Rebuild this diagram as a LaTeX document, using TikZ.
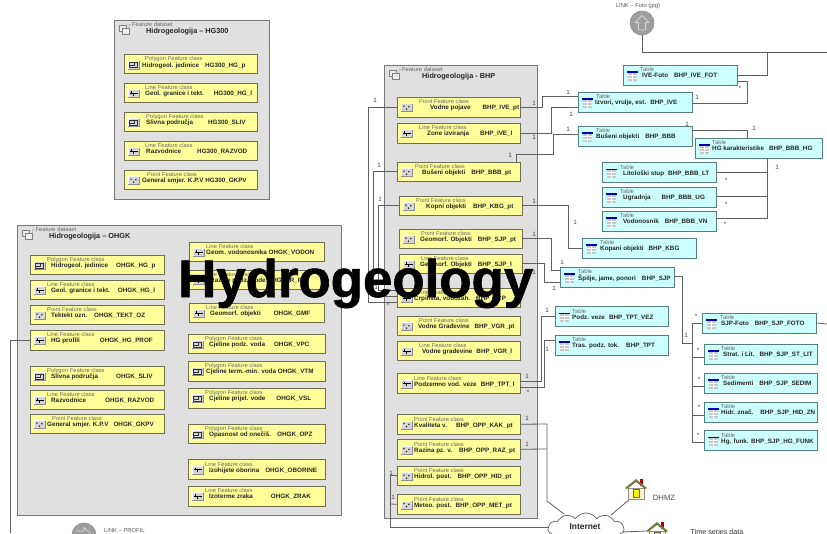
\documentclass[tikz,border=0pt]{standalone}
\usepackage{fontspec}
\setmainfont{Liberation Sans}
\newfontfamily\titlef{Liberation Sans Bold}[FakeBold=1.2]
\usetikzlibrary{shapes.symbols}
\definecolor{dsfill}{HTML}{E0E0E0}
\definecolor{dsline}{HTML}{777777}
\definecolor{fcfill}{HTML}{FFFF99}
\definecolor{fcline}{HTML}{6E6E50}
\definecolor{tbfill}{HTML}{CCFFFF}
\definecolor{tbline}{HTML}{557F7F}
\definecolor{cn}{HTML}{606060}
\definecolor{kindc}{HTML}{666666}
\definecolor{roofc}{HTML}{7A7A40}
\definecolor{wallc}{HTML}{FBF3D5}
\newcounter{mc}
\newcommand\g[1]{\hspace*{#1pt}}
\tikzset{
 x=1pt,y=-1pt,
 dset/.style={draw=dsline,fill=dsfill,line width=1pt,inner sep=0,rectangle},
 fcbox/.style={draw=fcline,fill=fcfill,line width=0.9pt,inner sep=0,rectangle},
 tbbox/.style={draw=tbline,fill=tbfill,line width=0.9pt,inner sep=0,rectangle},
 kind/.style={anchor=west,inner sep=0,font=\fontsize{5.8}{6}\selectfont,text=kindc},
 nametext/.style={anchor=west,inner sep=0,font=\bfseries\fontsize{6.3}{7}\selectfont,text=black!85},
 dstitle/.style={anchor=west,inner sep=0,font=\bfseries\fontsize{7.3}{8}\selectfont,text=black!85},
 mult/.style={inner sep=0,font=\fontsize{6.3}{7}\selectfont,text=black!75},
 conn/.style={draw=cn,line width=0.8pt},
 small/.style={inner sep=0,font=\fontsize{5.8}{6}\selectfont,text=black!65},
}
\def\parsebox#1,#2,#3,#4\relax{\def\xa{#1}\def\ya{#2}\def\xb{#3}\def\yb{#4}}
% icons, drawn directly at (x,y)
\newcommand\icback[2]{\fill[black!17] (#1-5.2,#2-4) rectangle (#1+5.2,#2+4);\draw[white,line width=0.4pt] (#1-5.2,#2+4)--(#1-5.2,#2-4)--(#1+5.2,#2-4);\draw[black!45,line width=0.4pt] (#1-5.2,#2+4)--(#1+5.2,#2+4)--(#1+5.2,#2-4);}
\newcommand\icpt[2]{\icback{#1}{#2}\fill[black] (#1-2.6,#2-1.4) circle (.75) (#1+2.4,#2-.7) circle (.75) (#1,#2+1.7) circle (.75);}
\newcommand\icln[2]{\icback{#1}{#2}\draw[black,line width=.5pt] (#1-4,#2-.4)--(#1+4,#2-.4) (#1,#2-.4)--(#1,#2+2.2) (#1-2,#2-.4)--(#1-2,#2-2.2);}
\newcommand\icpg[2]{\icback{#1}{#2}\draw[black!80,line width=.45pt] (#1-3.8,#2-2.7) rectangle (#1+3.8,#2+2.7) (#1+.5,#2-2.7)--(#1+.5,#2+.5)--(#1-3.8,#2+.5);}
\newcommand\ictb[2]{\fill[black!22] (#1-4.8,#2-3) rectangle (#1+4.8,#2+5);\fill[blue!70!black] (#1-5.3,#2-4.5) rectangle (#1+5.3,#2-3);\draw[white,line width=.5pt] (#1-4.8,#2-.4)--(#1+4.8,#2-.4) (#1-4.8,#2+2.3)--(#1+4.8,#2+2.3) (#1,#2-3)--(#1,#2+5);}
% box: name, x1,y1,x2,y2, style, icon macro, label x, text x, text
\newcommand\cbox[7]{\parsebox#2\relax
 \pgfmathsetmacro\cxx{(\xa+\xb)/2}\pgfmathsetmacro\cyy{(\ya+\yb)/2}
 \pgfmathsetmacro\ww{\xb-\xa}\pgfmathsetmacro\hh{\yb-\ya}
 \pgfmathsetmacro\icx{\xa+9.5}\pgfmathsetmacro\icy{\ya+10.5}
 \pgfmathsetmacro\ky{\ya+4.6}\pgfmathsetmacro\ty{\ya+11}
 \node[#3,minimum width=\ww pt,minimum height=\hh pt] (#1) at (\cxx,\cyy) {};
 \csname ic#4\endcsname{\icx}{\icy}
 \node[kind] (#1-k) at (#5,\ky) {\csname kn#4\endcsname};
 \node[nametext] (#1-t) at (#6,\ty) {#7};}
\def\knpt{Point Feature class}\def\knln{Line Feature class}\def\knpg{Polygon Feature class}\def\kntb{Table}
\newcommand\dataset[4]{\parsebox#2\relax
 \pgfmathsetmacro\cxx{(\xa+\xb)/2}\pgfmathsetmacro\cyy{(\ya+\yb)/2}
 \pgfmathsetmacro\ww{\xb-\xa}\pgfmathsetmacro\hh{\yb-\ya}
 \pgfmathsetmacro\ka{\xa+18}\pgfmathsetmacro\kb{\ya+4.5}\pgfmathsetmacro\tb{\ya+12}
 \node[dset,minimum width=\ww pt,minimum height=\hh pt] (#1) at (\cxx,\cyy) {};
 \node[kind] (#1-k) at (\ka,\kb) {Feature dataset};
 \node[dstitle] (#1-t) at (#4,\tb) {#3};
 \draw[black!50,line width=.35pt,fill=white!40!dsfill] (\xa+5,\ya+5) rectangle (\xa+12,\ya+11);
 \draw[black!50,line width=.35pt,fill=white!40!dsfill] (\xa+8,\ya+8) rectangle (\xa+15,\ya+14);
 \draw[black!50,line width=.35pt] (\xa+15,\ya+8)--(\xa+15,\ya+5)--(\xa+17,\ya+4);}
\newcommand\mul[3]{\stepcounter{mc}\node[mult] (m\arabic{mc}) at (#1,#2) {#3};}
\newcommand\house[3]{%
 \fill[wallc,draw=black!45,line width=.4pt] (#1-8,#2+9) rectangle (#1+8,#2+20);
 \fill[red!65!black] (#1+4,#2) rectangle (#1+7,#2+7);
 \fill[roofc] (#1,#2) -- (#1+11,#2+9) -- (#1+9,#2+10) -- (#1,#2+3) -- (#1-9,#2+10) -- (#1-11,#2+9) -- cycle;
 \fill[yellow,draw=black!60,line width=.5pt] (#1-3,#2+10) rectangle (#1+3,#2+18);}
\begin{document}
\begin{tikzpicture}
\useasboundingbox (0,0) rectangle (827,533);
\clip (0,0) rectangle (827,533);
\fill[white] (0,0) rectangle (827,533);
% datasets
\dataset{hg}{114,20,269,199}{Hidrogeologija – HG300}{146}
\dataset{oh}{17.5,225,341,515}{Hidrogeologija – OHGK}{49}
\dataset{bh}{384,65,537,518}{Hidrogeologija - BHP}{422}
% HG300
\cbox{h1}{124,54.5,257,73.5}{fcbox}{pg}{145}{142}{Hidrogeol. jedinice\g{6}HG300\_HG\_p}
\cbox{h2}{124,83,257,102}{fcbox}{ln}{145}{145}{Geol. granice i tekt.\g{10}HG300\_HG\_l}
\cbox{h3}{124,112,257,131}{fcbox}{pg}{146}{146}{Slivna područja\g{15}HG300\_SLIV}
\cbox{h4}{124,141,257,160}{fcbox}{ln}{145}{146}{Razvodnice\g{16}HG300\_RAZVOD}
\cbox{h5}{124,170,257,189}{fcbox}{pt}{147}{142}{General smjer. K.P.V HG300\_GKPV}
% OHGK left
\cbox{o1}{30,255,164,274}{fcbox}{pg}{47}{51}{Hidrogeol. jedinice\g{8}OHGK\_HG\_p}
\cbox{o2}{30,280,164,299.5}{fcbox}{ln}{47}{51}{Geol. granice i tekt.\g{8}OHGK\_HG\_l}
\cbox{o3}{30,305,164,324.5}{fcbox}{pt}{47}{51}{Tektekt ozn.\g{7}OHGK\_TEKT\_OZ}
\cbox{o4}{30,330,164,350}{fcbox}{ln}{47}{51}{HG profili\g{20}OHGK\_HG\_PROF}
\cbox{o5}{30,366,164,385}{fcbox}{pg}{47}{51}{Slivna područja\g{18}OHGK\_SLIV}
\cbox{o6}{30,390,164,409.5}{fcbox}{ln}{47}{51}{Razvodnice\g{19}OHGK\_RAZVOD}
\cbox{o7}{30,414,164,433.5}{fcbox}{pt}{52}{47}{General smjer. K.P.V\g{5}OHGK\_GKPV}
% OHGK right
\cbox{r1}{189,242,324,261}{fcbox}{ln}{206}{206}{Geom. vodonosnika OHGK\_VODON}
\cbox{r2}{189,270,324,289}{fcbox}{ln}{206}{210}{Razine podz. vode OHGK\_R\_PV}
\cbox{r3}{189,303,324,322.5}{fcbox}{ln}{206}{210}{Geomorf. objekti\g{13}OHGK\_GMF}
\cbox{r4}{188,334,325,353.5}{fcbox}{pg}{205}{209}{Cjeline podz. voda\g{9}OHGK\_VPC}
\cbox{r5}{188,361,325,381}{fcbox}{pg}{205}{206}{Cjeline term.-min. voda OHGK\_VTM}
\cbox{r6}{188,388,325,408}{fcbox}{pg}{205}{209}{Cjeline prijel. vode\g{11}OHGK\_VSL}
\cbox{r7}{188,424,325,443.5}{fcbox}{pg}{205}{209}{Opasnost od onečiš.\g{6}OHGK\_OPZ}
\cbox{r8}{188,459.5,325,479}{fcbox}{ln}{205}{209}{Izohijete oborina\g{6}OHGK\_OBORINE}
\cbox{r9}{188,486,325,506}{fcbox}{ln}{205}{209}{Izoterme zraka\g{18}OHGK\_ZRAK}
% BHP
\cbox{b1}{397,97,520,117}{fcbox}{pt}{419}{430}{Vodne pojave\g{12}BHP\_IVE\_pt}
\cbox{b2}{397,123,520,143}{fcbox}{ln}{419}{427}{Zone izviranja\g{11}BHP\_IVE\_l}
\cbox{b3}{397,162,520,181}{fcbox}{pt}{415}{422}{Bušeni objekti\g{6}BHP\_BBB\_pt}
\cbox{b4}{399,196,522,215}{fcbox}{pt}{416}{426}{Kopni objekti\g{7}BHP\_KBG\_pt}
\cbox{b5}{399,229,522,248}{fcbox}{pt}{421}{420}{Geomorf. Objekti\g{6}BHP\_SJP\_pt}
\cbox{b6}{399,254,522,273}{fcbox}{ln}{421}{420}{Geomorf. Objekti\g{6}BHP\_SJP\_l}
\cbox{b7}{397,288,520,307}{fcbox}{ln}{418}{414}{Crpilišta, vodozah.\g{6}BHP\_VCP}
\cbox{b8}{397,316,520,335.5}{fcbox}{pt}{419}{418}{Vodne Građevine\g{5}BHP\_VGR\_pt}
\cbox{b9}{397,341,520,360.5}{fcbox}{ln}{419}{422}{Vodne građevine\g{4}BHP\_VGR\_l}
\cbox{b10}{397,373.5,520,393}{fcbox}{ln}{414}{414}{Podzemno vod. veze\g{4}BHP\_TPT\_l}
\cbox{b11}{397,414.5,520,434}{fcbox}{pt}{414}{414}{Kvaliteta v.\g{9}BHP\_OPP\_KAK\_pt}
\cbox{b12}{397,439.5,520,459}{fcbox}{pt}{414}{414}{Razina pz. v.\g{7}BHP\_OPP\_RAZ\_pt}
\cbox{b13}{397,466,520,485}{fcbox}{pt}{414}{414}{Hidrol. post.\g{6}BHP\_OPP\_HID\_pt}
\cbox{b14}{397,494.5,520,514}{fcbox}{pt}{414}{414}{Meteo. post.\g{4}BHP\_OPP\_MET\_pt}
% tables
\cbox{t1}{623,65,737,85}{tbbox}{tb}{640}{642}{IVE-Foto\g{6}BHP\_IVE\_FOT}
\cbox{t2}{578,92,692,112}{tbbox}{tb}{596}{595}{Izvori, vrulje, est.\g{4}BHP\_IVE}
\cbox{t3}{578,126,692,146}{tbbox}{tb}{596}{596}{Bušeni objekti\g{6}BHP\_BBB}
\cbox{t4}{695,138,822,158}{tbbox}{tb}{712}{712}{HG karakteristike\g{5}BHP\_BBB\_HG}
\cbox{t5}{602,162.5,716,182.5}{tbbox}{tb}{620}{623}{Litološki stup\g{4}BHP\_BBB\_LT}
\cbox{t6}{602,187,716,207}{tbbox}{tb}{620}{623}{Ugradnja\g{11}BHP\_BBB\_UG}
\cbox{t7}{602,211,716,231}{tbbox}{tb}{620}{623}{Vodonosnik\g{6}BHP\_BBB\_VN}
\cbox{t8}{582,238,696,258}{tbbox}{tb}{600}{600}{Kopani objekti\g{5}BHP\_KBG}
\cbox{t9}{560,267,674,287}{tbbox}{tb}{578}{578}{Špilje, jame, ponori\g{6}BHP\_SJP}
\cbox{t10}{555,306.5,668,326}{tbbox}{tb}{572}{572}{Podz. veze\g{4}BHP\_TPT\_VEZ}
\cbox{t11}{555,335,668,355}{tbbox}{tb}{572}{572}{Tras. podz. tok.\g{7}BHP\_TPT}
\cbox{t12}{702,313,816,333}{tbbox}{tb}{720}{721}{SJP-Foto\g{6}BHP\_SJP\_FOTO}
\cbox{t13}{704,344,817,364.5}{tbbox}{tb}{721}{723}{Strat. i Lit.\g{5}BHP\_SJP\_ST\_LIT}
\cbox{t14}{704,373,817,393}{tbbox}{tb}{721}{723}{Sedimenti\g{6}BHP\_SJP\_SEDIM}
\cbox{t15}{704,402,817,422}{tbbox}{tb}{721}{721}{Hidr. znač.\g{7}BHP\_SJP\_HID\_ZN}
\cbox{t16}{704,430.5,817,450.5}{tbbox}{tb}{721}{721}{Hg. funk. BHP\_SJP\_HG\_FUNK}
% link circles and cloud
\node[circle,draw=black!45,fill=black!38,line width=.6pt,minimum size=24pt,inner sep=0] (lfoto) at (642,23) {};
\draw[white!85!black,line width=.7pt,line join=round] (642,15.5)--(649,22.5)--(645.5,22.5)--(645.5,30)--(638.5,30)--(638.5,22.5)--(635,22.5)--cycle;
\node[small] (lfotot) at (638,6) {LINK – Foto (jpg)};
\node[circle,draw=black!45,fill=black!38,line width=.6pt,minimum size=24pt,inner sep=0] (lprof) at (84,535) {};
\draw[white!85!black,line width=.7pt,line join=round] (76,531)--(84,531)--(84,527.5)--(91,534);
\node[small,anchor=west] (lproft) at (104,530) {LINK – PROFIL};
\coordinate (e1) at (827,52);
\coordinate (e2) at (827,324);
\coordinate (e3) at (10,533);
% connectors
\draw[conn] (lfoto.south) -- (642,52) -- (e1);
\draw[conn] (767,52) -- (767,75) -- (t1.east|-0,75);
\draw[conn] (t1.east|-0,81) -- (747,81) -- (747,103) -- (t2.east|-0,103);
\draw[conn] (b1.east) -- (542,107) -- (542,96) -- (t2.west|-0,96);
\draw[conn] (b2.east) -- (551,133) -- (551,107) -- (t2.west|-0,107);
\draw[conn] (b3.north-|516,0) -- (516,154) -- (553,154) -- (553,134) -- (t3.west|-0,134);
\draw[conn] (t3.east|-0,130) -- (747,130) -- (t4.north-|747,0);
\draw[conn] (t4.south-|767,0) -- (767,218) -- (t7.east|-0,218);
\draw[conn] (t5.east|-0,172) -- (767,172);
\draw[conn] (t6.east|-0,196) -- (767,196);
\draw[conn] (b4.east) -- (568,205.5) -- (568,248) -- (t8.west);
\draw[conn] (b5.east) -- (551,238.5) -- (551,270) -- (t9.west|-0,270);
\draw[conn] (b6.east) -- (544,263.5) -- (544,282) -- (t9.west|-0,282);
\draw[conn] (t9.east|-0,276) -- (682,276) -- (682,343) -- (692,343);
\draw[conn] (t12.west) -- (692,323) -- (692,442) -- (t16.west|-0,442);
\draw[conn] (692,357) -- (t13.west|-0,357);
\draw[conn] (692,386) -- (t14.west|-0,386);
\draw[conn] (692,415) -- (t15.west|-0,415);
\draw[conn] (t12.east) -- (e2);
\draw[conn] (b10.east|-0,381) -- (541,381) -- (541,316) -- (t10.west|-0,316);
\draw[conn] (b10.east|-0,387) -- (544,387) -- (544,340) -- (t11.west|-0,340);
\draw[conn] (b1.west) -- (368,107) -- (368,302) -- (b7.west|-0,302);
\draw[conn] (b3.west) -- (373,171.5) -- (373,296) -- (b7.west|-0,296);
\draw[conn] (b4.west) -- (378,205.5) -- (378,290) -- (b7.west|-0,290);
\draw[conn] (o4.west) -- (10,340) -- (e3);
% cloud and houses
\node[cloud,cloud puffs=11,cloud puff arc=110,aspect=2.6,draw=cn,fill=white,line width=.7pt,inner sep=0,minimum width=76pt,minimum height=32pt] (net) at (586,529) {};
\node[inner sep=0,font=\bfseries\fontsize{8.4}{9}\selectfont,text=black!85] (nett) at (585,527) {Internet};
\draw[conn] (b11.east) -- (547,424) -- (547,501) -- (564,514);
\draw[conn] (b12.east) -- (547,449);
\draw[conn] (b13.west) -- (390,475.5) -- (390,527) -- (549,527);
\draw[conn] (b14.west) -- (390,504);
\draw[conn] (611,515) -- (630,499);
\draw[conn] (622,532) -- (646,531);
\house{636}{479}{}
\house{657}{522}{}
\node[inner sep=0,font=\fontsize{7.7}{8}\selectfont,text=black!70] (dhmz) at (664,498) {DHMZ};
\node[inner sep=0,font=\fontsize{7.2}{8}\selectfont,text=black!80] (tsd) at (717,531.5) {Time series data};
% multiplicities
\mul{740}{88}{*}\mul{697}{97}{1}
\mul{534}{103}{1}\mul{568}{92}{1}\mul{571}{114}{1}\mul{534}{137}{1}
\mul{510}{155}{1}\mul{568}{129}{1}\mul{687}{124}{1}\mul{754}{128}{1}
\mul{777}{167}{1}\mul{726}{180}{*}\mul{726}{204}{*}\mul{725}{224}{*}
\mul{534}{201}{1}\mul{575}{222}{1}\mul{534}{234}{1}\mul{562}{262}{1}\mul{534}{272}{1}\mul{554}{288}{1}
\mul{686}{335}{1}\mul{696}{316}{*}\mul{698}{350}{*}\mul{699}{379}{*}\mul{699}{407}{*}\mul{698}{435}{*}
\mul{527}{376}{1}\mul{528}{392}{*}\mul{547}{310}{1}\mul{547}{349}{1}
\mul{527}{418}{1}\mul{527}{444}{1}\mul{391}{473}{1}\mul{393}{497}{1}
\mul{375}{100}{1}\mul{379}{165}{1}\mul{380}{199}{1}\mul{376}{287}{1}\mul{388}{305}{*}
% title
\node[anchor=base west,inner sep=0,font=\titlef\fontsize{52.8}{56}\selectfont,text=black] (title) at (178,297) {Hydrogeology};
\end{tikzpicture}
\end{document}
